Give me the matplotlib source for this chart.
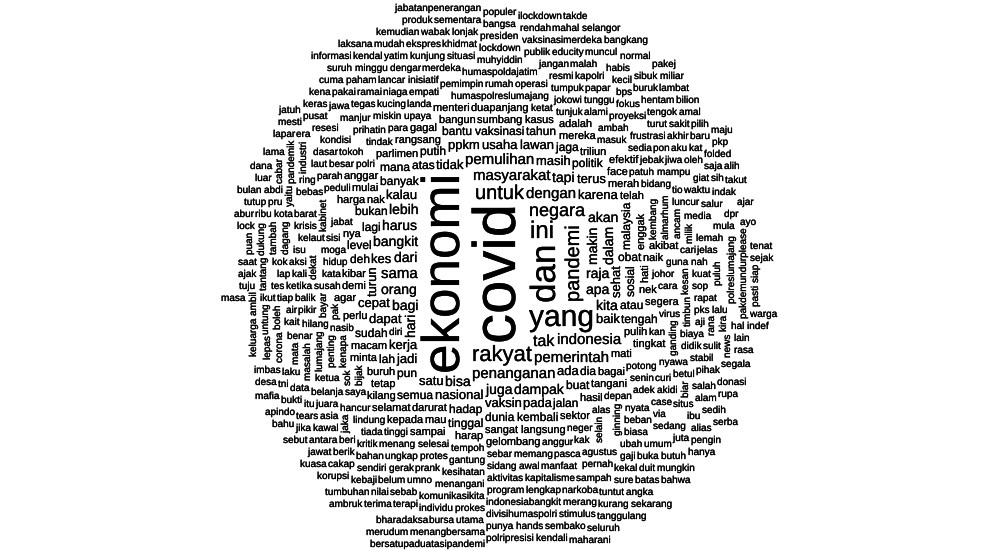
"""
Word cloud of Indonesian/Malay news terms (covid, ekonomi, ...).

Words are laid out greedily: biggest first, each one goes to the free
spot nearest the cloud centre (bounding-box collision test on the
rendered text boxes).
"""

import numpy as np
import matplotlib
matplotlib.use("Agg")
import matplotlib.pyplot as plt
import matplotlib.patheffects as pe

W, H = 984, 550
CX, CY = 500, 275          # centre of the cloud
RX, RY = 262, 272          # cloud radius (px)
FAMILY = ["Liberation Sans", "DejaVu Sans"]

# ---- data: words and their pixel font sizes --------------------------------
TOP_WORDS = ["covid", "ekonomi", "dan", "yang", "ini", "rakyat", "untuk",
             "pandemi", "negara", "tak"]
TOP_SIZES = [60, 53, 35, 30, 24, 22, 20, 20, 18, 16]

WORDS_15 = ["masyarakat", "penanganan", "dengan", "pemerintah", "pemulihan",
            "indonesia", "sama"]

WORDS_14 = ["orang", "dari", "raja", "bagi", "apa", "bangkit", "makin", "hari",
            "harus", "juga", "bisa", "lebih", "dampak", "kita", "tapi", "dalam",
            "akan"]

WORDS_13 = ["tidak", "nasional", "kerja", "ada", "baik", "masih", "karena",
            "dapat", "kes", "kalau", "usaha", "satu", "sehat", "vaksin", "jadi",
            "turun", "cepat", "ppkm", "lawan", "terus", "pada"]

WORDS_12 = ["banyak", "atas", "obat", "hadap", "dia", "buat", "pun", "sosial",
            "vaksinasi", "malaysia", "putih", "dunia", "politik", "sudah",
            "kembali", "atau", "bukan", "lagi", "jaga", "jalan", "semua",
            "bantu", "tahun", "tengah", "lah", "deh", "tinggal", "mana", "level"]

WORDS_11 = ["darurat", "macam", "bagai", "mati", "sumbang", "sangat", "kibar",
            "rangsang", "demi", "pulih", "nak", "tangani", "langsung", "enggak",
            "hati", "merah", "buruh", "parlimen", "mereka", "triliun", "perlu",
            "hasil", "telah", "bangun", "nek", "kasus", "duapanjang", "mau",
            "sektor", "face", "minta", "tetap", "naik", "nya", "agar", "harap",
            "mulai", "gelombang", "gagal", "tingkat", "segera", "adalah",
            "sampai", "harga", "selamat", "anggar", "kilang", "efektif",
            "akibat", "menteri", "kepada"]

WORDS_10 = [
    "hidup", "potong", "humaspolreslumajang", "kembang", "johor", "depan",
    "jabat", "nasib", "ketat", "neger", "moga", "alas", "kata", "tempoh", "kan",
    "kenapa", "anggur", "masuk", "tunjuk", "bijak", "cara", "susah", "pak",
    "sebar", "polri", "upaya", "patuh", "memang", "sisi", "senin", "selesai",
    "almarhum", "tindak", "virus", "para", "gantung", "bayar", "bidang",
    "ginning", "selain", "ambah", "guna", "jokowi", "peduli", "landa", "adek",
    "rumah", "tinggi", "penting", "saya", "sidang", "alami", "ganding",
    "pemimpin", "ancam", "pasca", "kabinet", "sok", "operasi", "protes",
    "kesan", "kak", "sedia", "awal", "menang", "humaspoldajatim", "prihatin",
    "dekat", "lindung", "nyata", "miskin", "tokoh", "kesihatan", "tumpuk",
    "manfaat", "jebak", "hilang", "besar", "empati", "hancur", "nyawa",
    "kelaut", "aktivitas", "timbun", "cari", "tunggu", "parah", "agustus",
    "beban", "curi", "kucing", "kapitalisme", "lumajang", "proyeksi",
    "frustrasi", "ungkap", "mampu", "balik", "pikir", "ketua", "luncur",
    "prank", "tiada", "milik", "ketika", "inisiatif", "krisis", "menangani",
    "biaya", "resmi", "muhyiddin", "diri", "program", "belanja", "tio", "akidi",
    "nah", "barat", "biasa", "case", "papar", "niaga", "merdeka", "kali",
    "didik", "pernah", "media", "kuat", "sop", "aksi", "bebas", "pon",
    "manjur", "kondisi", "isu", "benar", "rapat", "betul", "jangan", "jiwa",
    "masalah", "lengkap", "pks", "komunikasikita", "fokus", "ubah", "gerak",
    "dasar", "kapolri", "jelas", "kritik", "aji", "lemah", "juara", "umno",
    "laut", "jaka", "via", "situasi", "sampah", "tegas", "waktu", "lancar",
    "ring", "turut", "lockdown", "bahan", "kait", "publik", "dagang", "air",
    "stabil", "indonesiabangkit", "tiap", "bps", "biar", "dengar", "gaji",
    "asia", "mata", "malah", "ramai", "aku", "narkoba", "kunjung", "rana",
    "puluh", "lap", "sedang", "educity", "beri", "situs", "akhir", "tengok",
    "salur", "resesi", "sendiri", "kok", "belum", "giat", "kekal", "khidmat",
    "oleh", "kecil", "kota", "prokes", "presiden", "yaitu", "umum",
    "divisihumaspolri", "vaksinasimerdeka", "lalu", "sulit", "industri",
    "pihak", "boleh", "kawal", "hentam", "tes", "data", "buka", "laku",
    "sebab", "jawa", "salah", "merang", "mula", "tambah", "polreslumajang",
    "corona", "habis", "individu", "paham", "pandemik", "buruk", "ekspres",
    "berik", "itu", "kira", "sakit", "sure", "minggu", "tantang", "yatim",
    "lonjak", "muncul", "pakai", "antara", "kat", "ikut", "tears", "utama",
    "tuntut", "alam", "indak", "pusat", "pru", "kebaji", "terapi", "saja",
    "rendah", "duit", "untung", "bangsa", "punya", "news", "cakap", "ibu",
    "sibuk", "bukti", "sih", "pakdemundurplease", "era", "abdi", "dukung",
    "stimulus", "baru", "juta", "dpr", "wabak", "cabar", "bursa", "nilai",
    "hands", "ribu", "tni", "butuh", "lepas", "batas", "sementara", "mahal",
    "menangbersama", "keras", "sembako", "mudah", "folded", "kurang", "amal",
    "hal", "kendal", "jawat", "normal", "ilockdown", "imbas", "lambat",
    "segala", "jika", "polripresisi", "bharadaksa", "kemudian", "pilih",
    "populer", "angka", "sedih", "ambil", "terima", "mungkin", "tumbuhan",
    "alias", "cuma", "donasi", "korupsi", "kena", "bilion", "bangkang",
    "apindo", "lain", "selangor", "ajak", "takut", "jabatanpenerangan",
    "tutup", "bersatupaduatasipandemi", "suruh", "tuju", "saat", "keluarga",
    "rasa", "mesti", "lapar", "lama", "ayo", "kendali", "rupa", "tanggulang",
    "luar", "desa", "miliar", "produk", "pkp", "pengin", "sebut", "alih",
    "puan", "ajar", "kuasa", "bahu", "mafia", "takde", "seluruh", "pakej",
    "dana", "laksana", "lock", "bahwa", "sekarang", "bulan", "siap", "hanya",
    "maju", "informasi", "pasti", "sejak", "indef", "jatuh", "tenat",
    "ambruk", "abur", "warga", "maharani", "serba", "merudum", "masa",
]

VERTICAL_WORDS = {
    "covid", "ekonomi", "dan", "pandemi", "makin", "hari", "dalam", "sehat",
    "turun", "sosial", "malaysia", "enggak", "hati", "kembang", "kenapa",
    "bijak", "pak", "almarhum", "bayar", "ginning", "selain", "penting",
    "ganding", "ancam", "kabinet", "sok", "kesan", "dekat", "timbun",
    "lumajang", "milik", "masalah", "jaka", "dagang", "biar", "mata", "rana",
    "puluh", "yaitu", "industri", "boleh", "tambah", "polreslumajang",
    "corona", "pandemik", "kira", "tantang", "untung", "news",
    "pakdemundurplease", "dukung", "cabar", "lepas", "ambil", "keluarga",
    "puan", "siap", "pasti",
}


def build_words():
    items = list(zip(TOP_WORDS, TOP_SIZES))
    for size, group in [(15, WORDS_15), (14, WORDS_14), (13, WORDS_13),
                        (12, WORDS_12), (11, WORDS_11), (10, WORDS_10)]:
        items += [(w, size) for w in group]
    return items


def candidates():
    gy, gx = np.mgrid[0:H:2, 0:W:2]
    d = ((gx - CX) / RX) ** 2 + ((gy - CY) / RY) ** 2
    keep = d <= 1.35
    order = np.argsort(d[keep], kind="stable")
    return gx[keep][order], gy[keep][order]


def place_texts(texts, renderer):
    cand_x, cand_y = candidates()
    occ = np.zeros((H, W), dtype=np.int32)
    S = np.zeros((H + 1, W + 1), dtype=np.int32)
    for t in texts:
        bb = t.get_window_extent(renderer)
        # anchor sits at data (0, 0) -> display (0, H); data y runs downward
        dx0 = int(np.floor(bb.x0))
        dy0 = int(np.floor(H - bb.y1))
        w = int(np.ceil(bb.x1)) - dx0 + 1
        h = int(np.ceil(H - bb.y0)) - dy0 + 1
        x0 = cand_x - w // 2
        y0 = cand_y - h // 2
        x1 = x0 + w
        y1 = y0 + h
        ok = np.nonzero((x0 >= 0) & (y0 >= 0) & (x1 <= W) & (y1 <= H))[0]
        S[1:, 1:] = occ.cumsum(0).cumsum(1)
        a0, b0, a1, b1 = x0[ok], y0[ok], x1[ok], y1[ok]
        s = S[b1, a1] - S[b0, a1] - S[b1, a0] + S[b0, a0]
        free = ok[s == 0]
        if free.size == 0:
            t.set_visible(False)
            continue
        k = free[0]
        bx, by = x0[k], y0[k]
        occ[by:by + h, bx:bx + w] = 1
        t.set_position((bx - dx0, by - dy0))


fig = plt.figure(figsize=(W / 100, H / 100), dpi=100)
ax = fig.add_axes([0, 0, 1, 1])
ax.set_xlim(0, W)
ax.set_ylim(H, 0)
ax.axis("off")

bold = [pe.withStroke(linewidth=0.2, foreground="black")]
texts = []
for word, px in build_words():
    vertical = word in VERTICAL_WORDS
    texts.append(ax.text(0, 0, word, fontsize=px * 0.72, family=FAMILY,
                         color="black", rotation=90 if vertical else 0,
                         rotation_mode="anchor", ha="left", va="baseline",
                         path_effects=bold))

fig.canvas.draw()
place_texts(texts, fig.canvas.get_renderer())

fig.savefig("out.png", dpi=100, facecolor="white")
plt.close(fig)
